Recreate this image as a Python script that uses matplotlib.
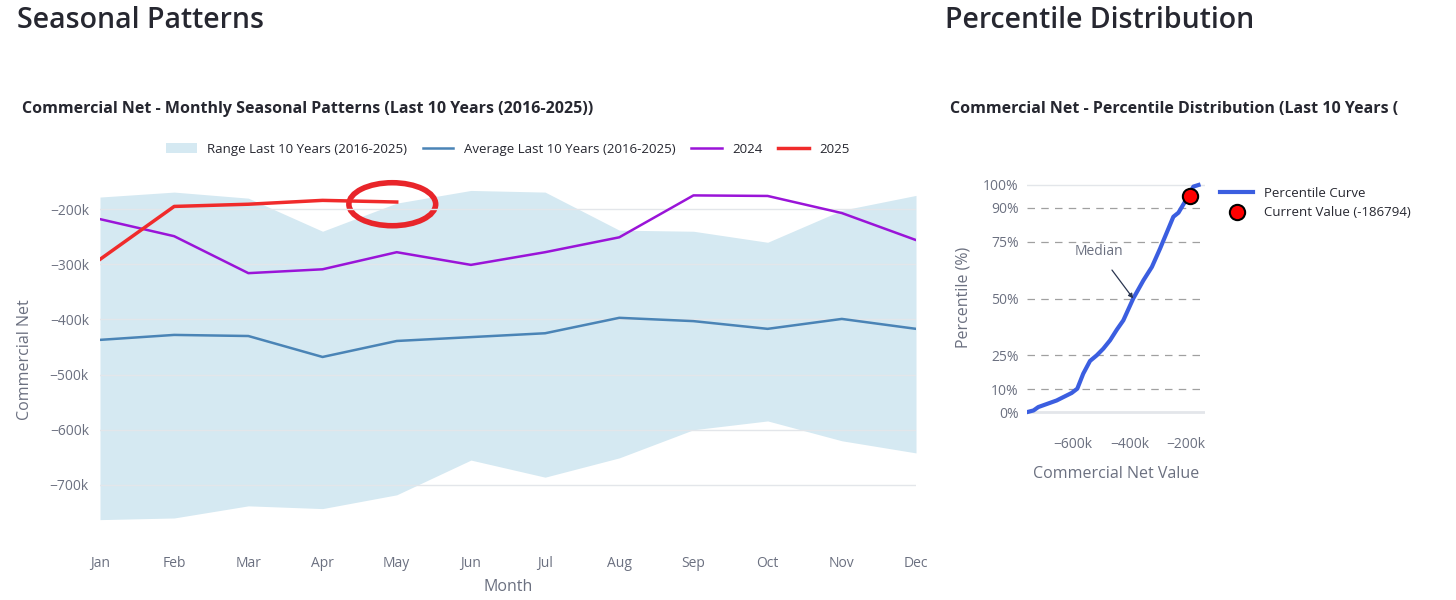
import numpy as np
import matplotlib
matplotlib.use('Agg')
import matplotlib.pyplot as plt
from matplotlib.patches import Ellipse
from matplotlib.ticker import FuncFormatter

plt.rcParams['font.family'] = ['Open Sans', 'DejaVu Sans']

months = ["Jan", "Feb", "Mar", "Apr", "May", "Jun", "Jul", "Aug", "Sep", "Oct", "Nov", "Dec"]
range_hi = [-178, -169, -180, -240, -189, -166, -169, -238, -240, -260, -202, -175]
range_lo = [-763, -760, -738, -743, -718, -655, -686, -651, -600, -584, -620, -642]
avg = [-437, -428, -430, -468, -439, -432, -425, -397, -403, -417, -399, -417]
y2024 = [-218, -249, -316, -309, -278, -301, -278, -251, -175, -176, -207, -256]
y2025 = [-291, -195, -191, -184, -187]

pct_vals = [-762, -740, -723, -658, -634, -605, -585, -564, -540, -516, -493, -469,
            -445, -422, -387, -351, -321, -292, -245, -227, -204, -174, -156]
pct = [0, 0.7, 2.2, 5.1, 6.6, 8.4, 10.3, 16.9, 22.5, 25, 27.9, 31.6,
       36.3, 40.4, 50, 58, 63.9, 72, 86, 87.8, 92.6, 99.3, 100]
current_val = -186794
current_pct = 95

W, H = 1456, 600
grey = "#6b7080"
dark = "#262730"
fig = plt.figure(figsize=(W / 100, H / 100), dpi=100)

def px_axes(x0, y0, x1, y1):
    return fig.add_axes([x0 / W, 1 - y1 / H, (x1 - x0) / W, (y1 - y0) / H])

fig.text(17 / W, 1 - 21 / H, "Seasonal Patterns", fontsize=20.5, fontweight="semibold", color=dark, va="center")
fig.text(945 / W, 1 - 21 / H, "Percentile Distribution", fontsize=20.5, fontweight="semibold", color=dark, va="center")
fig.text(22 / W, 1 - 109 / H, "Commercial Net - Monthly Seasonal Patterns (Last 10 Years (2016-2025))",
         fontsize=11.5, fontweight="bold", color=dark, va="center")
# the right title is cropped in the dashboard
fig.text(950 / W, 1 - 109 / H, "Commercial Net - Percentile Distribution (Last 10 Years (",
         fontsize=11.5, fontweight="bold", color=dark, va="center")

# left chart
ax = px_axes(100, 175, 916, 545)
x = np.arange(12)
ax.fill_between(x, range_lo, range_hi, color="#d5e9f2", lw=0, label="Range Last 10 Years (2016-2025)")
ax.plot(x, avg, color="#4a84b6", lw=1.8, label="Average Last 10 Years (2016-2025)")
ax.plot(x, y2024, color="#9a14d8", lw=1.8, label="2024")
ax.plot(x[:len(y2025)], y2025, color="#f02b2b", lw=2.5, label="2025")
ax.add_patch(Ellipse((3.94, -191), 1.17, 78, fill=False, edgecolor="#e8252a", lw=4))
ax.set_xlim(0, 11)
ax.set_ylim(-809, -138)
ax.set_xticks(x)
ax.set_xticklabels(months)
ax.set_yticks([-700, -600, -500, -400, -300, -200])
ax.yaxis.set_major_formatter(FuncFormatter(lambda v, p: "\u2212%dk" % abs(v)))
ax.grid(axis="y", color="#e3e6ea", lw=1)
for s in ax.spines.values():
    s.set_visible(False)
ax.tick_params(length=0, colors=grey, labelsize=10, pad=8)
ax.tick_params(axis="x", pad=8)
ax.set_xlabel("Month", color=grey, fontsize=11.5, labelpad=6)
ax.set_ylabel("Commercial Net", color=grey, fontsize=11.5, labelpad=12)
ax.legend(loc="lower center", bbox_to_anchor=(0.5, 1.02), ncol=4, frameon=False,
          fontsize=9.5, labelcolor=dark, handlelength=2.3, columnspacing=1.2)

# right chart
ax2 = px_axes(1027, 175, 1205, 420)
for yv in [10, 25, 50, 75, 90]:
    ax2.axhline(yv, color="#a0a0a0", lw=0.9, ls=(0, (6, 5)), zorder=1)
ax2.axhline(100, color="#e3e6ea", lw=1, zorder=1)
ax2.axhline(0, color="#e3e6ea", lw=2, zorder=1)
ax2.plot(pct_vals, pct, color="#3b5ee0", lw=3, label="Percentile Curve", zorder=3)
ax2.plot([current_val / 1000], [current_pct], "o", color="red", mec="black", mew=1.5, ms=11,
         label="Current Value (-186794)", zorder=4)
ax2.annotate("Median", xy=(-387, 50), xytext=(-510, 70.5), color=grey, fontsize=10,
             ha="center", va="center",
             arrowprops=dict(arrowstyle="-|>", color="#2a3550", lw=0.9, shrinkA=7, shrinkB=0,
                             mutation_scale=7))
ax2.set_xlim(-763, -133)
ax2.set_ylim(-3.5, 104.4)
ax2.set_yticks([0, 10, 25, 50, 75, 90, 100])
ax2.set_yticklabels(["0%", "10%", "25%", "50%", "75%", "90%", "100%"])
ax2.set_xticks([-600, -400, -200])
ax2.xaxis.set_major_formatter(FuncFormatter(lambda v, p: "\u2212%dk" % abs(v)))
for s in ax2.spines.values():
    s.set_visible(False)
ax2.tick_params(length=0, colors=grey, labelsize=10, pad=6)
ax2.tick_params(axis="x", pad=12)
ax2.set_xlabel("Commercial Net Value", color=grey, fontsize=11.5, labelpad=10)
ax2.set_ylabel("Percentile (%)", color=grey, fontsize=11.5, labelpad=8)
ax2.legend(loc="upper left", bbox_to_anchor=(1.02, 1.0), frameon=False, fontsize=9.5,
           labelcolor=dark, handlelength=2.5)

fig.savefig("out.png", dpi=100, facecolor="white")
